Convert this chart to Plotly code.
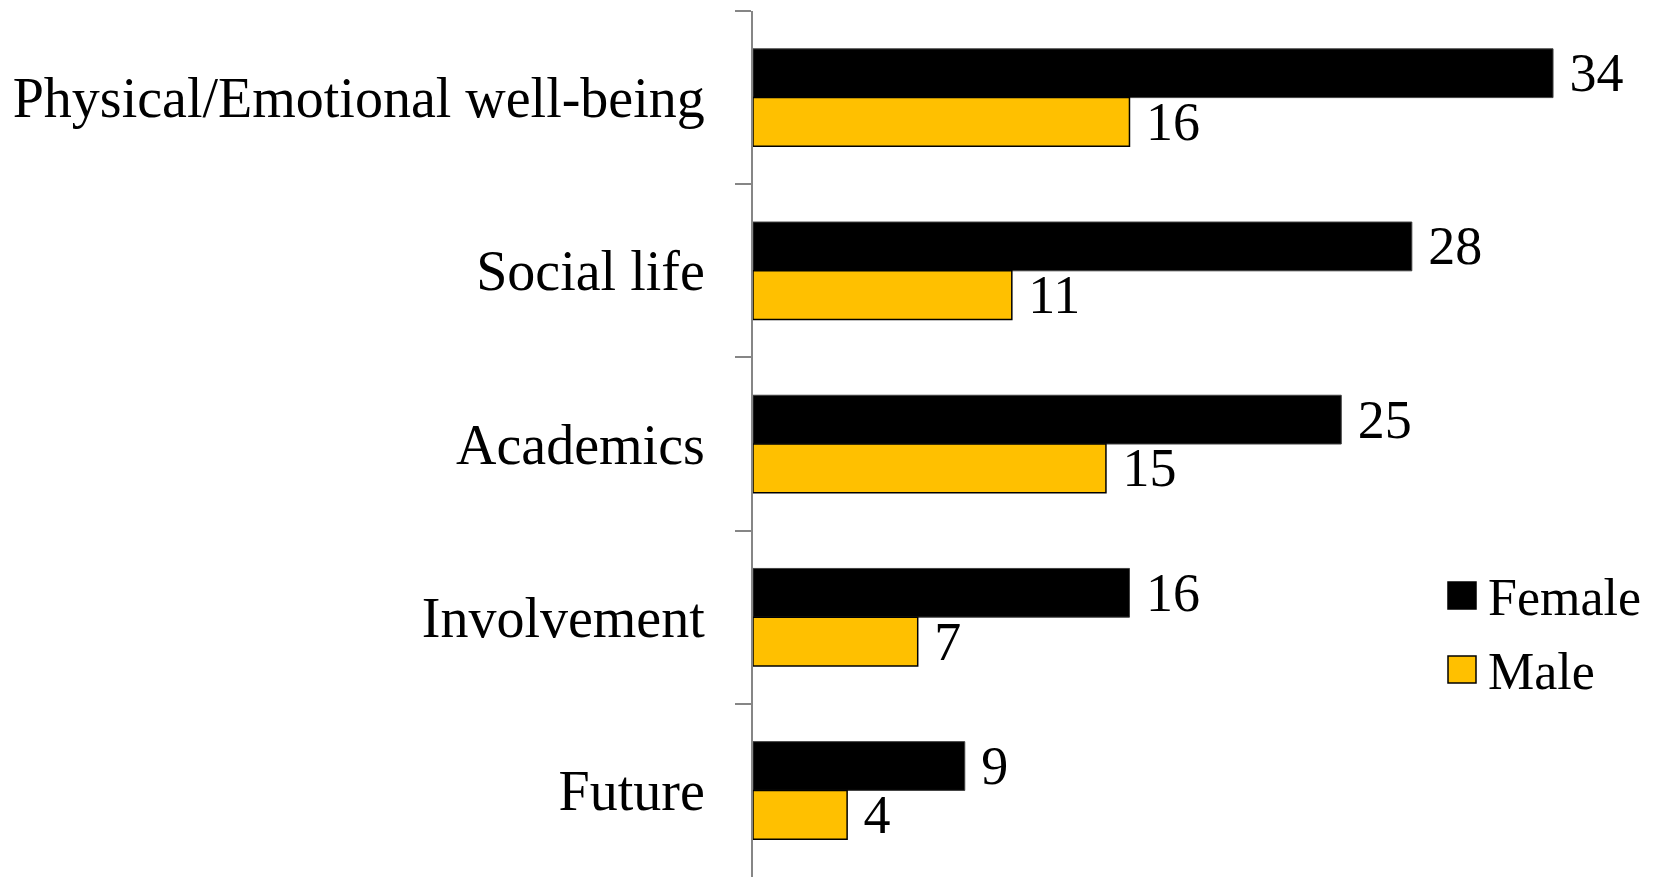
import plotly.graph_objects as go

categories = ["Physical/Emotional well-being", "Social life", "Academics", "Involvement", "Future"]
female = [34, 28, 25, 16, 9]
male = [16, 11, 15, 7, 4]
series_names = ["Female", "Male"]
series_colors = ["#000000", "#FFC000"]

FONT = "Liberation Serif, Times New Roman, serif"
FS = 56
LBL = 54

fig = go.Figure()
fig.add_trace(go.Bar(
    y=categories, x=female, orientation="h", name=series_names[0],
    marker=dict(color=series_colors[0], line=dict(color="#404040", width=1)),
    text=female, texttemplate="\u00a0%{text}", textposition="outside", cliponaxis=False,
    constraintext="none",
    textfont=dict(family=FONT, size=LBL, color="black"),
))
fig.add_trace(go.Bar(
    y=categories, x=male, orientation="h", name=series_names[1],
    marker=dict(color=series_colors[1], line=dict(color="#000000", width=1.5)),
    text=male, texttemplate="\u00a0%{text}", textposition="outside", cliponaxis=False,
    constraintext="none",
    textfont=dict(family=FONT, size=LBL, color="black"),
))

# legend keys (large squares, as in the reference)
W, H = 1645, 869
L, T = 745, 3
pw, ph = W - L, H - T

def px_x(p):
    return (p - L) / pw

def px_y(p):
    return 1 - (p - T) / ph

shapes = []
annotations = []
key_tops = [574, 648]
for name, color, top in zip(series_names, series_colors, key_tops):
    shapes.append(dict(type="rect", xref="paper", yref="paper",
                       x0=px_x(1440), x1=px_x(1468), y0=px_y(top + 27), y1=px_y(top),
                       fillcolor=color, line=dict(color="#000000", width=1.5)))
    annotations.append(dict(text=name, xref="paper", yref="paper",
                            x=px_x(1478), y=px_y(top + 15), xanchor="left", yanchor="middle",
                            showarrow=False, font=dict(family=FONT, size=52, color="black")))

fig.update_layout(
    width=W, height=H,
    barmode="group", bargap=0.437, bargroupgap=0,
    plot_bgcolor="white", paper_bgcolor="white",
    margin=dict(l=L, r=0, t=T, b=0, autoexpand=False),
    font=dict(family=FONT, size=FS, color="black"),
    showlegend=False,
    shapes=shapes, annotations=annotations,
)
fig.update_xaxes(range=[0, 900 / 23.53], visible=False)
fig.update_yaxes(
    type="category", range=[4.5, -0.5], automargin=False,
    showline=True, linecolor="#868686", linewidth=2,
    ticks="outside", tickson="boundaries", ticklen=16, tickcolor="#868686", tickwidth=2,
    ticklabelstandoff=35,
    tickfont=dict(family=FONT, size=FS, color="black"),
    showgrid=False, zeroline=False,
)

fig.write_html("out.html")
